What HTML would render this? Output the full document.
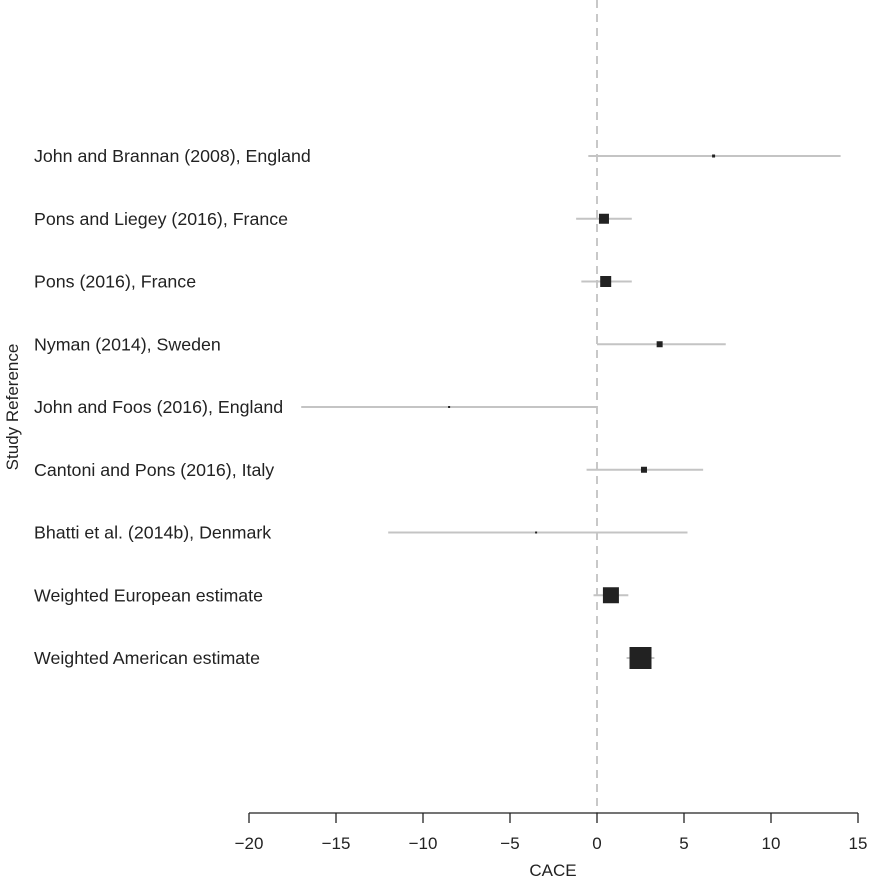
<!DOCTYPE html>
<html><head><meta charset="utf-8"><style>
html,body{margin:0;padding:0;background:#fff;}
svg{display:block;font-family:"Liberation Sans",Arial,sans-serif;}
</style></head><body>
<svg id="chart" width="870" height="880" viewBox="0 0 870 880"></svg>
<script>
const studies = ["John and Brannan (2008), England","Pons and Liegey (2016), France","Pons (2016), France","Nyman (2014), Sweden","John and Foos (2016), England","Cantoni and Pons (2016), Italy","Bhatti et al. (2014b), Denmark","Weighted European estimate","Weighted American estimate"];
const estimates = [6.7, 0.4, 0.5, 3.6, -8.5, 2.7, -3.5, 0.8, 2.5];
const lowerCI = [-0.5, -1.2, -0.9, 0, -17, -0.6, -12, -0.2, 1.7];
const upperCI = [14, 2.0, 2.0, 7.4, 0, 6.1, 5.2, 1.8, 3.3];
const weights = [3, 10, 11, 6, 2, 6, 2, 16, 22];
const xTicks = [-20, -15, -10, -5, 0, 5, 10, 15];

const NS = "http://www.w3.org/2000/svg";
const svg = document.getElementById("chart");
const xScale = v => 249 + (v + 20) * (609 / 35);
const yScale = i => 156 + i * 62.75;
function mk(tag, attrs, parent) {
  const e = document.createElementNS(NS, tag);
  for (const k in attrs) e.setAttribute(k, attrs[k]);
  (parent || svg).appendChild(e);
  return e;
}
const z = mk("line", {x1: xScale(0), x2: xScale(0), y1: 0, y2: 813, stroke: "#c8c8c8", "stroke-width": 2, "stroke-dasharray": "8,6"});



studies.forEach((s, i) => {
  const y = yScale(i);
  const g = mk("g", {});
  
  
  const t = mk("text", {x: 34, y: y + 6, "font-size": 17.8, fill: "#222"}, g);
  t.textContent = s;
  
  
  const l = mk("line", {x1: xScale(lowerCI[i]), x2: xScale(upperCI[i]), y1: y, y2: y, stroke: "#c4c4c4", "stroke-width": 2}, g);
  
  
  const w = weights[i];
  const r = mk("rect", {x: xScale(estimates[i]) - w / 2, y: y - w / 2, width: w, height: w, fill: "#222"}, g);
  
  
});

const ax = mk("g", {});


mk("line", {x1: xScale(-20), x2: xScale(15), y1: 813, y2: 813, stroke: "#222", "stroke-width": 1.3}, ax);
xTicks.forEach(v => {
  const x = xScale(v);
  mk("line", {x1: x, x2: x, y1: 813, y2: 823, stroke: "#222", "stroke-width": 1.3}, ax);
  const t = mk("text", {x: x, y: 849, "font-size": 17, "text-anchor": "middle", fill: "#222"}, ax);
  t.textContent = v < 0 ? "\u2212" + Math.abs(v) : String(v);
  
  
});
const xt = mk("text", {x: 553, y: 876, "font-size": 17, "text-anchor": "middle", fill: "#222"});
xt.textContent = "CACE";


const yt = mk("text", {x: 0, y: 0, "font-size": 17, "text-anchor": "middle", fill: "#222", transform: "translate(18,407) rotate(-90)"});
yt.textContent = "Study Reference";


</script>
</body></html>
